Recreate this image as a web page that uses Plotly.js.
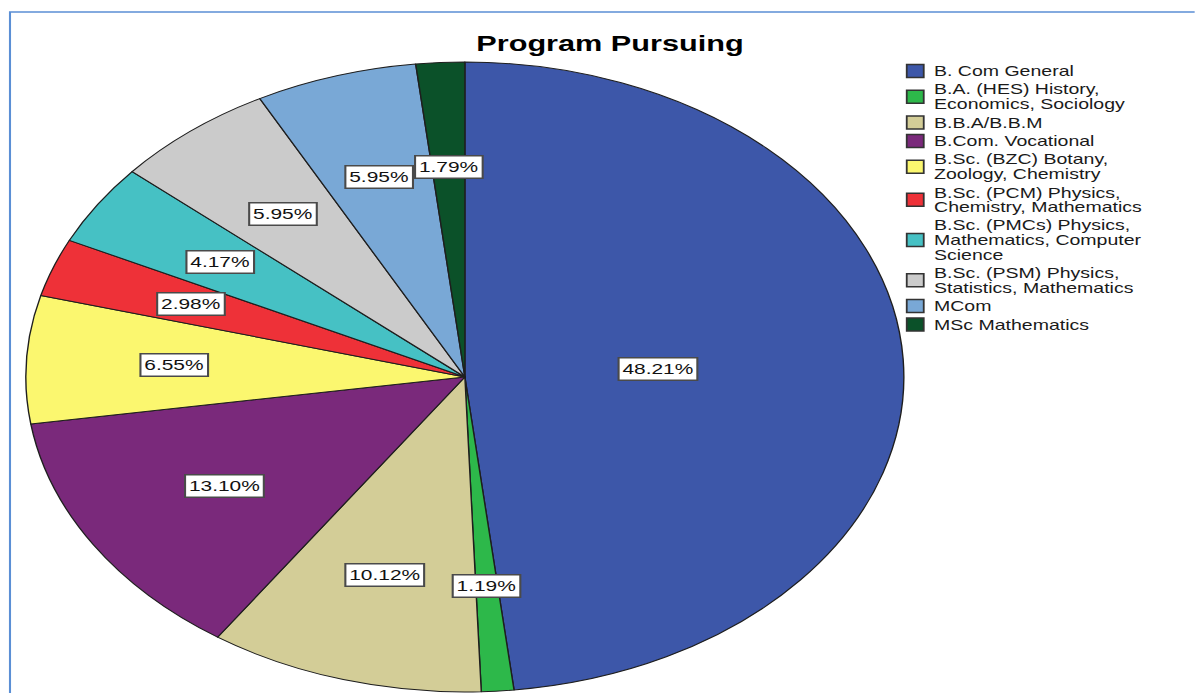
<!DOCTYPE html>
<html>
<head>
<meta charset="utf-8">
<script src="https://cdn.plot.ly/plotly-3.0.1.min.js"></script>
<style>
  html, body { margin: 0; padding: 0; background: #ffffff; overflow: hidden; }
  #wrap { width: 1195px; height: 693px; overflow: hidden; position: relative; }
  #chart { position: absolute; left: 0; top: 0; transform-origin: 0 0; }
</style>
</head>
<body>
<div id="wrap"><div id="chart"></div></div>
<script>
// ---- data ----
const categories = [
  "B. Com General",
  "B.A. (HES) History,<br>Economics, Sociology",
  "B.B.A/B.B.M",
  "B.Com. Vocational",
  "B.Sc. (BZC) Botany,<br>Zoology, Chemistry",
  "B.Sc. (PCM) Physics,<br>Chemistry, Mathematics",
  "B.Sc. (PMCs) Physics,<br>Mathematics, Computer<br>Science",
  "B.Sc. (PSM) Physics,<br>Statistics, Mathematics",
  "MCom",
  "MSc Mathematics"
];
const counts = [81, 2, 17, 22, 11, 5, 7, 10, 10, 3];
const colors = ["#3d57a9", "#2db84a", "#d3cd97", "#7a297b", "#fbf76f",
                "#ee3138", "#46c1c4", "#cbcbcb", "#79a8d6", "#0b5129"];
const chartTitle = "Program Pursuing";

// ---- geometry (the source image is horizontally stretched) ----
const S = 1.394;               // horizontal stretch
const PAGE_W = 1195, H = 693;
const W = PAGE_W / S;
const CX = 465 / S, CY = 377, R = 315;
const FONT = "Liberation Sans, Arial, sans-serif";

const total = counts.reduce((a, b) => a + b, 0);
const pctText = counts.map(c => (c / total * 100).toFixed(2) + "%");

const annotations = [];
const shapes = [];

// slice labels at sector centroids
let cum = 0;
counts.forEach((c, i) => {
  const frac = c / total;
  const mid = (cum + frac / 2) * 2 * Math.PI;
  const half = frac * Math.PI;
  const d = 2 * R * Math.sin(half) / (3 * half);
  const px = CX + d * Math.sin(mid);
  const py = CY - d * Math.cos(mid);
  cum += frac;
  annotations.push({
    xref: "paper", yref: "paper",
    x: px / W, y: 1 - py / H,
    xanchor: "center", yanchor: "middle",
    text: pctText[i], showarrow: false,
    font: { family: FONT, size: 15, color: "#111111" },
    bgcolor: "#ffffff", bordercolor: "#4a4a4a", borderwidth: 1.5, borderpad: 2
  });
});

// legend (manual, to match tight line spacing)
const LX0 = 907 / S, LSW = 17 / S, LTX = 932 / S;
const lineH = 14.5, gap = 4;
let ly = 71;
categories.forEach((cat, i) => {
  const lines = cat.split("<br>");
  const first = ly;
  lines.forEach((ln, j) => {
    annotations.push({
      xref: "paper", yref: "paper",
      x: LTX / W, y: 1 - (ly + j * lineH) / H,
      xanchor: "left", yanchor: "middle",
      text: ln, showarrow: false,
      font: { family: FONT, size: 14, color: "#1a1a1a" }
    });
  });
  const centre = first + (lines.length - 1) * lineH / 2;
  shapes.push({
    type: "rect", xref: "paper", yref: "paper",
    x0: LX0 / W, x1: (LX0 + LSW) / W,
    y0: 1 - (centre - 6.5) / H, y1: 1 - (centre + 6.5) / H,
    fillcolor: colors[i], line: { color: "#333333", width: 1.3 }
  });
  ly += lines.length * lineH + gap;
});

// outer blue frame
shapes.push({
  type: "rect", xref: "paper", yref: "paper",
  x0: 10 / S / W, x1: 1.05, y0: 1 - 12 / H, y1: -0.05,
  line: { color: "#5b8fd5", width: 1.5 }, fillcolor: "rgba(0,0,0,0)", layer: "below"
});

const trace = {
  type: "pie",
  labels: categories,
  values: counts,
  sort: false,
  direction: "clockwise",
  rotation: 0,
  textinfo: "none",
  hoverinfo: "skip",
  marker: { colors: colors, line: { color: "#1e1e1e", width: 1 } },
  domain: { x: [(CX - R) / W, (CX + R) / W], y: [1 - (CY + R) / H, 1 - (CY - R) / H] },
  showlegend: false
};

const layout = {
  width: W, height: H,
  margin: { l: 0, r: 0, t: 0, b: 0 },
  paper_bgcolor: "#ffffff",
  plot_bgcolor: "#ffffff",
  showlegend: false,
  title: {
    text: chartTitle,
    x: (610 / S) / W, xanchor: "center",
    y: 1 - 43 / H, yanchor: "middle",
    font: { family: FONT, size: 22, color: "#000000", weight: "bold" }
  },
  annotations: annotations,
  shapes: shapes
};

document.getElementById("chart").style.transform = "scaleX(" + S + ")";
Plotly.newPlot("chart", [trace], layout, { displayModeBar: false, staticPlot: true });
</script>
</body>
</html>
